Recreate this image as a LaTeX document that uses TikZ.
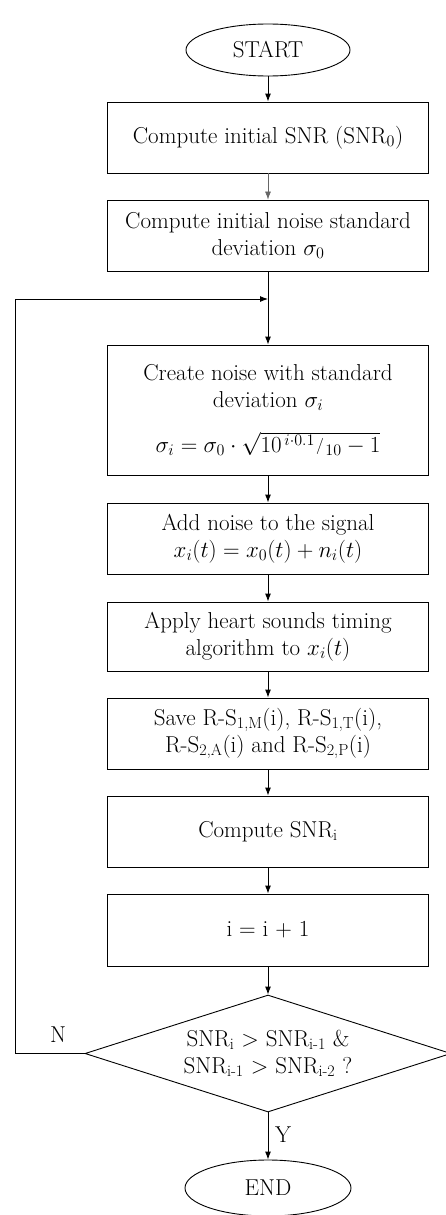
\documentclass[tikz,border=0pt]{standalone}
\usepackage{fix-cm}
\usepackage{amsmath}
\usepackage{tikz}
\usetikzlibrary{shapes.geometric,arrows.meta}

\tikzset{
  proc/.style={draw,line width=0.9pt,minimum width=321pt,minimum height=71pt,align=center,inner sep=2pt},
  term/.style={draw,ellipse,line width=0.9pt,minimum width=164pt,minimum height=52pt,inner sep=0pt},
  cond/.style={draw,diamond,aspect=3.1,line width=0.9pt,minimum width=366pt,minimum height=117pt,align=center,inner sep=0pt},
  flow/.style={-{Latex[length=8pt,width=6pt]},line width=0.9pt}
}

\begin{document}
\begin{tikzpicture}[x=1pt,y=1pt,every node/.append style={font=\fontsize{23}{27}\selectfont}]
  \useasboundingbox (0,0) rectangle (446,-1215);

  \node[term] (start) at (268,-50) {START};
  \node[proc] (init) at (268,-137.5) {Compute initial SNR (SNR$_0$)};
  \node[proc] (sig0) at (268,-235.5) {Compute initial noise standard\\deviation $\sigma_0$};
  \coordinate (join) at (268,-299);
  \node[proc,minimum height=130pt] (noise) at (268,-410)
    {Create noise with standard\\deviation $\sigma_i$\\[18pt]
     $\sigma_i=\sigma_0\cdot\sqrt{10^{\,i\cdot 0.1}\mkern1mu\raisebox{0.2ex}{$\scriptstyle/$}\mkern1mu{}_{10}-1}$};
  \node[proc] (add) at (268,-538.5) {Add noise to the signal\\$x_i(t)=x_0(t)+n_i(t)$};
  \node[proc,minimum height=69pt] (apply) at (268,-636.5) {Apply heart sounds timing\\algorithm to $x_i(t)$};
  \node[proc] (save) at (268,-733.5)
    {Save R-S\textsubscript{1,M}(i), R-S\textsubscript{1,T}(i),\\R-S\textsubscript{2,A}(i) and R-S\textsubscript{2,P}(i)};
  \node[proc] (snr) at (268,-831.5) {Compute SNR\textsubscript{i}};
  \node[proc,minimum height=72pt] (inc) at (268,-930) {i = i + 1};
  \node[cond] (check) at (268,-1053.5)
    {SNR\textsubscript{i} > SNR\textsubscript{i-1} \&\\SNR\textsubscript{i-1} > SNR\textsubscript{i-2} ?};
  \node[term,minimum height=56pt,minimum width=166pt] (stop) at (268,-1188) {END};
  \coordinate (back) at (15,-1053.5);

  \draw[flow] (start) -- (init);
  \draw[flow,line width=0.6pt,gray!80!black] (init) -- (sig0);
  \draw[flow] (sig0) -- (noise);
  \draw[flow] (noise) -- (add);
  \draw[flow] (add) -- (apply);
  \draw[flow] (apply) -- (save);
  \draw[flow] (save) -- (snr);
  \draw[flow] (snr) -- (inc);
  \draw[flow] (inc) -- (check);
  \draw[flow] (check) -- (stop);
  % loop back when the SNR is not yet rising
  \draw[flow] (check.west) -- (back) |- (join);

  \node (nlab) at (58,-1035) {N};
  \node (ylab) at (283,-1135) {Y};

\end{tikzpicture}
\end{document}
